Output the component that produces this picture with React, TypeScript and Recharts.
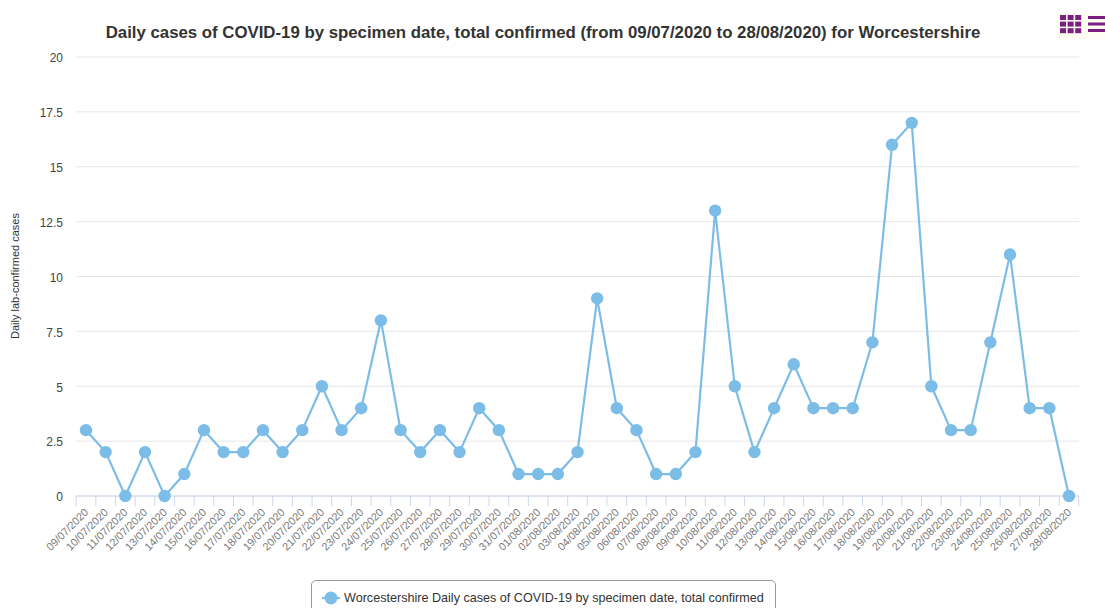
import React from "react";
import { LineChart, Line, XAxis, YAxis, CartesianGrid, Legend } from "recharts";

const dates = [
  "09/07/2020", "10/07/2020", "11/07/2020", "12/07/2020", "13/07/2020", "14/07/2020", "15/07/2020",
  "16/07/2020", "17/07/2020", "18/07/2020", "19/07/2020", "20/07/2020", "21/07/2020", "22/07/2020",
  "23/07/2020", "24/07/2020", "25/07/2020", "26/07/2020", "27/07/2020", "28/07/2020", "29/07/2020",
  "30/07/2020", "31/07/2020", "01/08/2020", "02/08/2020", "03/08/2020", "04/08/2020", "05/08/2020",
  "06/08/2020", "07/08/2020", "08/08/2020", "09/08/2020", "10/08/2020", "11/08/2020", "12/08/2020",
  "13/08/2020", "14/08/2020", "15/08/2020", "16/08/2020", "17/08/2020", "18/08/2020", "19/08/2020",
  "20/08/2020", "21/08/2020", "22/08/2020", "23/08/2020", "24/08/2020", "25/08/2020", "26/08/2020",
  "27/08/2020", "28/08/2020",
];
const cases = [
  3, 2, 0, 2, 0, 1, 3, 2, 2, 3, 2, 3, 5, 3, 4, 8, 3, 2, 3, 2, 4, 3, 1, 1, 1, 2, 9, 4, 3, 1, 1, 2, 13, 5,
  2, 4, 6, 4, 4, 4, 7, 16, 17, 5, 3, 3, 7, 11, 4, 4, 0,
];
const yTicks = [0, 2.5, 5, 7.5, 10, 12.5, 15, 17.5, 20];

const TITLE = "Daily cases of COVID-19 by specimen date, total confirmed (from 09/07/2020 to 28/08/2020) for Worcestershire";
const SERIES = "Worcestershire Daily cases of COVID-19 by specimen date, total confirmed";
const FONT = "'Liberation Sans', Arial, sans-serif";
const BLUE = "#7cbde8";
const PURPLE = "#7b1f84";

const data = dates.map((d, i) => ({ date: d, value: cases[i] }));

// ticks sit between the points, half a step to the left of each label
const STEP = 19.66;
const DateTick = ({ x, y, payload, index }: any) => (
  <g>
    <line x1={x - STEP / 2} x2={x - STEP / 2} y1={y - 8} y2={y + 2} stroke="#ccd6eb" />
    {index === dates.length - 1 && (
      <line x1={x + STEP / 2} x2={x + STEP / 2} y1={y - 8} y2={y + 2} stroke="#ccd6eb" />
    )}
    <text
      x={x + 3}
      y={y + 9}
      textAnchor="end"
      fontSize={10.8}
      fontFamily={FONT}
      fill="#777777"
      transform={`rotate(-45 ${x + 3} ${y + 9})`}>
      {payload.value}
    </text>
  </g>
);

const LegendBox = () => (
  <div
    style={{
      boxSizing: "border-box",
      width: 465,
      height: 40,
      border: "1px solid #999999",
      borderRadius: 5,
      background: "#fff",
      display: "flex",
      alignItems: "flex-start",
      paddingTop: 10,
      paddingLeft: 10,
      fontFamily: FONT,
      fontSize: 12.6,
      color: "#333333",
    }}>
    <svg width={18} height={14} style={{ marginRight: 4 }}>
      <line x1={0} x2={18} y1={7} y2={7} stroke={BLUE} strokeWidth={2} />
      <circle cx={9} cy={7} r={6.5} fill={BLUE} />
    </svg>
    <span>{SERIES}</span>
  </div>
);

const MenuIcons = () => (
  <div style={{ position: "absolute", left: 1056, top: 13, width: 49, height: 26, background: "#fffdf2" }}>
    <svg width={49} height={26}>
      {[0, 1, 2].map((r) =>
        [0, 1, 2].map((c) => (
          <rect key={`${r}-${c}`} x={4 + c * 7.6} y={2 + r * 6.6} width={6} height={5} fill={PURPLE} />
        ))
      )}
      {[0, 1, 2].map((r) => (
        <rect key={r} x={32} y={3 + r * 6.5} width={17} height={3} fill={PURPLE} />
      ))}
    </svg>
  </div>
);

export default function App() {
  return (
    <div style={{ position: "fixed", left: 0, top: 0, width: 1105, height: 608, overflow: "hidden", background: "#fff" }}>
      <LineChart
        width={1105}
        height={608}
        data={data}
        margin={{ top: 57, right: 26, bottom: 0, left: 0 }}>
        <text x={543} y={38} textAnchor="middle" fontFamily={FONT} fontSize={16.8} fontWeight="bold" fill="#333333">
          {TITLE}
        </text>
        <text
          x={19}
          y={276}
          textAnchor="middle"
          fontFamily={FONT}
          fontSize={11}
          fill="#333333"
          transform="rotate(-90 19 276)">
          Daily lab-confirmed cases
        </text>
        <CartesianGrid vertical={false} stroke="#e6e6e6" />
        <XAxis
          dataKey="date"
          interval={0}
          padding={{ left: 10, right: 10 }}
          axisLine={{ stroke: "#ccd6eb" }}
          tickLine={false}
          height={72}
          tick={<DateTick />}
        />
        <YAxis
          width={76}
          domain={[0, 20]}
          ticks={yTicks}
          axisLine={false}
          tickLine={false}
          tickMargin={7}
          tick={{ fill: "#444444", fontSize: 12, fontFamily: FONT, dy: 1 }}
        />
        <Line
          dataKey="value"
          stroke={BLUE}
          strokeWidth={2.2}
          dot={{ r: 6.2, fill: BLUE, stroke: BLUE, strokeWidth: 0 }}
          isAnimationActive={false}
        />
        <Legend
          content={<LegendBox />}
          wrapperStyle={{ position: "absolute", left: 311, top: 580, width: 465, bottom: "auto" }}
        />
      </LineChart>
      <MenuIcons />
    </div>
  );
}
